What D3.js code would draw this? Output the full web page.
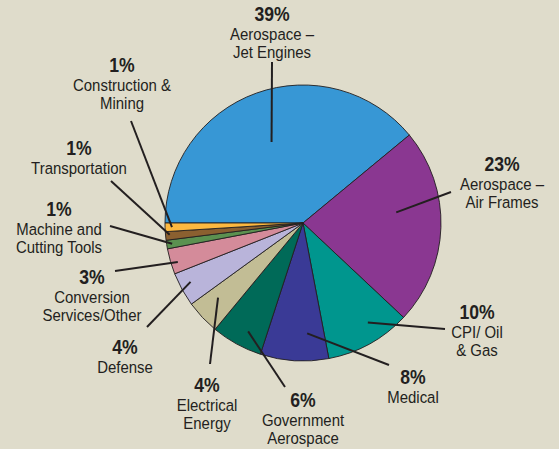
<!DOCTYPE html>
<html>
<head>
<meta charset="utf-8">
<script src="https://cdn.jsdelivr.net/npm/d3@7"></script>
<style>
  body { margin: 0; background: #dfdccb; }
  svg { display: block; }
  .pct { font-family: "Liberation Sans", Arial, sans-serif; font-weight: bold; font-size: 20px; fill: #231f20; }
  .name { font-family: "Liberation Sans", Arial, sans-serif; font-size: 17px; fill: #231f20; }
</style>
</head>
<body>
<svg width="559" height="449"></svg>
<script>
// slices, clockwise from 9 o'clock
var categories = ["Aerospace – Jet Engines", "Aerospace – Air Frames", "CPI/ Oil & Gas", "Medical",
  "Government Aerospace", "Electrical Energy", "Defense", "Conversion Services/Other",
  "Machine and Cutting Tools", "Transportation", "Construction & Mining"];
var shares = [39, 23, 10, 8, 6, 4, 4, 3, 1, 1, 1];
var labelLines = [
  ["Aerospace –", "Jet Engines"],
  ["Aerospace –", "Air Frames"],
  ["CPI/ Oil", "& Gas"],
  ["Medical"],
  ["Government", "Aerospace"],
  ["Electrical", "Energy"],
  ["Defense"],
  ["Conversion", "Services/Other"],
  ["Machine and", "Cutting Tools"],
  ["Transportation"],
  ["Construction &", "Mining"]
];
var colors = ["#3797d5", "#8a3791", "#00968e", "#3a3a96", "#006a58", "#c2bd95",
  "#b9b4da", "#d48b9a", "#5b9150", "#8b6030", "#fdb940"];

// label layout: t = position across slice, rf = radius fraction for leader start,
// lx/ly = leader end, tx/ty = label centre x / first baseline
var layout = [
  {t: 0.49, rf: 0.63, lx: 272, ly: 62,  tx: 272, ty: 21},
  {t: 0.40, rf: 0.68, lx: 451, ly: 192, tx: 502, ty: 171},
  {t: 0.38, rf: 0.86, lx: 445, ly: 329, tx: 477, ty: 319},
  {t: 0.30, rf: 0.80, lx: 389, ly: 365, tx: 413, ty: 384},
  {t: 0.41, rf: 0.88, lx: 285, ly: 387, tx: 303, ty: 407},
  {t: 0.63, rf: 0.82, lx: 210, ly: 364, tx: 207, ty: 392},
  {t: 0.58, rf: 0.92, lx: 147, ly: 327, tx: 125, ty: 354},
  {t: 0.40, rf: 0.95, lx: 115, ly: 271, tx: 92,  ty: 284},
  {t: 0.50, rf: 0.96, lx: 110, ly: 226, tx: 59,  ty: 216},
  {t: 0.60, rf: 0.97, lx: 111, ly: 181, tx: 79,  ty: 155},
  {t: 0.50, rf: 0.95, lx: 131, ly: 121, tx: 122, ty: 72}
];

var svg = d3.select("svg");
var cx = 303, cy = 223, r = 138;
var squeeze = 0.88; // condensed look

var pie = d3.pie().sort(null).value(function (d) { return d; })
  .startAngle(-Math.PI / 2).endAngle(Math.PI * 1.5);
var arcs = pie(shares);
var arc = d3.arc().innerRadius(0).outerRadius(r);

var g = svg.append("g").attr("transform", "translate(" + cx + "," + cy + ")");

g.selectAll("path")
  .data(arcs)
  .enter()
  .append("path")
  .attr("d", arc)
  .attr("fill", function (d, i) { return colors[i]; })
  .attr("stroke", "#231f20")
  .attr("stroke-width", 0.9)
  .attr("stroke-linejoin", "round");

// leader lines
svg.selectAll("line.leader")
  .data(arcs)
  .enter()
  .append("line")
  .attr("class", "leader")
  .attr("x1", function (d, i) {
    var a = d.startAngle + (d.endAngle - d.startAngle) * layout[i].t;
    return cx + Math.sin(a) * r * layout[i].rf;
  })
  .attr("y1", function (d, i) {
    var a = d.startAngle + (d.endAngle - d.startAngle) * layout[i].t;
    return cy - Math.cos(a) * r * layout[i].rf;
  })
  .attr("x2", function (d, i) { return layout[i].lx; })
  .attr("y2", function (d, i) { return layout[i].ly; })
  .attr("stroke", "#231f20")
  .attr("stroke-width", 2);

// labels
var labels = svg.selectAll("g.label")
  .data(shares)
  .enter()
  .append("g")
  .attr("class", "label")
  .attr("transform", function (d, i) {
    return "translate(" + layout[i].tx + "," + layout[i].ty + ") scale(" + squeeze + ",1)";
  });

labels.append("text")
  .attr("class", "pct")
  .attr("text-anchor", "middle")
  .text(function (d) { return d + "%"; });

labels.each(function (d, i) {
  var sel = d3.select(this);
  labelLines[i].forEach(function (line, j) {
    sel.append("text")
      .attr("class", "name")
      .attr("text-anchor", "middle")
      .attr("y", 19 + j * 18.5)
      .text(line);
  });
});
</script>
</body>
</html>
